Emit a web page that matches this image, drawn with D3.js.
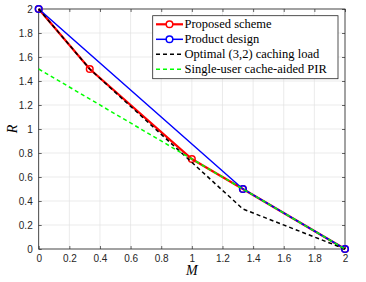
<!DOCTYPE html>
<html>
<head>
<meta charset="utf-8">
<script src="https://cdn.jsdelivr.net/npm/d3@7"></script>
<style>
  body { margin: 0; background: #fff; }
</style>
</head>
<body>
<div id="chart"></div>
<script>
// series (M, R)
const proposedM = [0, 1/3, 1, 4/3, 2];
const proposedR = [2, 1.5, 0.75, 0.5, 0];
const productM = [0, 4/3, 2];
const productR = [2, 0.5, 0];
const optimalM = [0, 1/3, 4/3, 2];
const optimalR = [2, 1.5, 1/3, 0];
const pirM = [0, 4/3, 2];
const pirR = [1.5, 0.5, 0];

const xTicks = [0, 0.2, 0.4, 0.6, 0.8, 1, 1.2, 1.4, 1.6, 1.8, 2];
const yTicks = [0, 0.2, 0.4, 0.6, 0.8, 1, 1.2, 1.4, 1.6, 1.8, 2];
const legendLabels = ["Proposed scheme", "Product design", "Optimal (3,2) caching load", "Single-user cache-aided PIR"];

const width = 366, height = 282;
const margin = {t: 9, b: 33, l: 38.7, r: 21};

const svg = d3.select("#chart").append("svg")
    .attr("width", width)
    .attr("height", height);

const x = d3.scaleLinear().domain([0, 2]).range([margin.l, width - margin.r]);
const y = d3.scaleLinear().domain([0, 2]).range([height - margin.b, margin.t]);

// grid
svg.append("g").selectAll("line").data(xTicks).join("line")
    .attr("x1", d => x(d)).attr("x2", d => x(d))
    .attr("y1", y(0)).attr("y2", y(2))
    .attr("stroke", "#e3e3e3").attr("stroke-width", 0.7);
svg.append("g").selectAll("line").data(yTicks).join("line")
    .attr("y1", d => y(d)).attr("y2", d => y(d))
    .attr("x1", x(0)).attr("x2", x(2))
    .attr("stroke", "#e3e3e3").attr("stroke-width", 0.7);

// axes
function styleAxis(g) {
    g.select(".domain").remove();
    g.selectAll(".tick line").attr("stroke", "#262626").attr("stroke-width", 0.7);
    g.selectAll(".tick text").attr("fill", "#262626")
        .style("font-family", "Liberation Sans, Arial, sans-serif").style("font-size", "10px");
}
svg.append("g").attr("transform", `translate(0,${y(0)})`)
    .call(d3.axisBottom(x).tickValues(xTicks).tickSize(-3).tickPadding(6).tickFormat(d3.format("~g")))
    .call(styleAxis);
svg.append("g").attr("transform", `translate(0,${y(2)})`)
    .call(d3.axisTop(x).tickValues(xTicks).tickSize(-3).tickFormat(""))
    .call(styleAxis);
svg.append("g").attr("transform", `translate(${x(0)},0)`)
    .call(d3.axisLeft(y).tickValues(yTicks).tickSize(-3).tickPadding(6).tickFormat(d3.format("~g")))
    .call(styleAxis);
svg.append("g").attr("transform", `translate(${x(2)},0)`)
    .call(d3.axisRight(y).tickValues(yTicks).tickSize(-3).tickFormat(""))
    .call(styleAxis);

// box
svg.append("rect")
    .attr("x", x(0)).attr("y", y(2))
    .attr("width", x(2) - x(0)).attr("height", y(0) - y(2))
    .attr("fill", "none").attr("stroke", "#262626").attr("stroke-width", 0.8);

// axis labels
svg.append("text").attr("x", (x(0) + x(2)) / 2).attr("y", 275)
    .attr("text-anchor", "middle")
    .style("font-family", "Liberation Serif, serif").style("font-style", "italic").style("font-size", "14px")
    .text("M");
svg.append("text").attr("transform", `translate(17,${(y(0) + y(2)) / 2}) rotate(-90)`)
    .attr("text-anchor", "middle")
    .style("font-family", "Liberation Serif, serif").style("font-style", "italic").style("font-size", "14px")
    .text("R");

const line = d3.line().x(d => x(d[0])).y(d => y(d[1]));
const series = [
    {m: proposedM, r: proposedR, color: "#ff0000", w: 2.2, dash: null, marker: true},
    {m: productM, r: productR, color: "#0000ff", w: 1.5, dash: null, marker: true},
    {m: optimalM, r: optimalR, color: "#000000", w: 1.5, dash: "4,3", marker: false},
    {m: pirM, r: pirR, color: "#00ff00", w: 1.5, dash: "4,3", marker: false}
];

series.forEach(s => {
    const pts = s.m.map((d, i) => [d, s.r[i]]);
    svg.append("path").datum(pts)
        .attr("d", line)
        .attr("fill", "none")
        .attr("stroke", s.color)
        .attr("stroke-width", s.w)
        .attr("stroke-dasharray", s.dash);
    if (s.marker) {
        svg.append("g").selectAll("circle").data(pts).join("circle")
            .attr("cx", d => x(d[0])).attr("cy", d => y(d[1]))
            .attr("r", 3.3)
            .attr("fill", "none")
            .attr("stroke", s.color)
            .attr("stroke-width", 1.5);
    }
});

// legend
const lg = svg.append("g");
lg.append("rect")
    .attr("x", 152.7).attr("y", 15.7)
    .attr("width", 185.3).attr("height", 63)
    .attr("fill", "#fff").attr("stroke", "#262626").attr("stroke-width", 0.8);
legendLabels.forEach((lab, i) => {
    const s = series[i];
    const ly = 24.3 + i * 15;
    lg.append("line")
        .attr("x1", 156).attr("x2", 183)
        .attr("y1", ly).attr("y2", ly)
        .attr("stroke", s.color).attr("stroke-width", s.w)
        .attr("stroke-dasharray", s.dash);
    if (s.marker) {
        lg.append("circle").attr("cx", 169.5).attr("cy", ly).attr("r", 3.3)
            .attr("fill", "#fff").attr("stroke", s.color).attr("stroke-width", 1.5);
    }
    lg.append("text")
        .attr("x", 184.5).attr("y", ly + 4)
        .style("font-family", "Liberation Serif, serif").style("font-size", "12.5px")
        .attr("fill", "#000")
        .text(lab);
});
</script>
</body>
</html>
